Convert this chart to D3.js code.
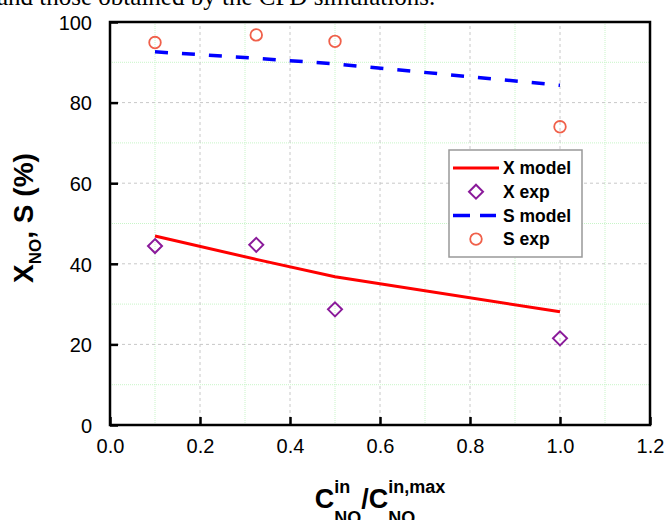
<!DOCTYPE html>
<html>
<head>
<meta charset="utf-8">
<script src="https://cdn.jsdelivr.net/npm/d3@7"></script>
<style>
  body { margin: 0; background: #fff; }
  svg { display: block; font-family: Arial, "Liberation Sans", sans-serif; }
</style>
</head>
<body>
<div id="chart"></div>
<script>
// ratio C_NO^in / C_NO^in,max
const ratios = [0.1, 0.325, 0.5, 1.0];
const xModel = [46.9, 41.1, 36.8, 28.1];
const xExp = [44.4, 44.7, 28.7, 21.5];
const sModel = [92.6, 91.0, 89.6, 84.3];
const sExp = [94.9, 96.8, 95.2, 74.0];

const xTicks = [0, 0.2, 0.4, 0.6, 0.8, 1.0, 1.2];
const yTicks = [0, 20, 40, 60, 80, 100];
const xMinor = [0.1, 0.3, 0.5, 0.7, 0.9, 1.1];
const yMinor = [10, 30, 50, 70, 90];

const legendItems = ["X model", "X exp", "S model", "S exp"];

const W = 667, H = 520;
const margin = { top: 22, right: 17, bottom: 95, left: 110 };

const svg = d3.select('#chart').append('svg')
    .attr('width', W)
    .attr('height', H);

// caption from the page above the figure, cut off at the top
svg.append('text')
    .attr('x', -3)
    .attr('y', 5)
    .style('font-family', '"Liberation Serif", "Times New Roman", serif')
    .style('font-size', '25px')
    .text('and those obtained by the CFD simulations.');

const x = d3.scaleLinear().domain([0, 1.2]).range([margin.left, W - margin.right]);
const y = d3.scaleLinear().domain([0, 100]).range([H - margin.bottom, margin.top]);

// grid: light green dotted minor, gray dashed major
svg.selectAll('.vminor').data(xMinor).enter().append('line')
    .attr('x1', d => x(d)).attr('x2', d => x(d))
    .attr('y1', y(0)).attr('y2', y(100))
    .attr('stroke', '#c8f5c8').attr('stroke-width', 1).attr('stroke-dasharray', '1,1');
svg.selectAll('.hminor').data(yMinor).enter().append('line')
    .attr('x1', x(0)).attr('x2', x(1.2))
    .attr('y1', d => y(d)).attr('y2', d => y(d))
    .attr('stroke', '#c8f5c8').attr('stroke-width', 1).attr('stroke-dasharray', '1,1');
svg.selectAll('.vmajor').data(xTicks.slice(1, -1)).enter().append('line')
    .attr('x1', d => x(d)).attr('x2', d => x(d))
    .attr('y1', y(0)).attr('y2', y(100))
    .attr('stroke', '#c8c8c8').attr('stroke-width', 1).attr('stroke-dasharray', '3,3');
svg.selectAll('.hmajor').data(yTicks.slice(1, -1)).enter().append('line')
    .attr('x1', x(0)).attr('x2', x(1.2))
    .attr('y1', d => y(d)).attr('y2', d => y(d))
    .attr('stroke', '#c8c8c8').attr('stroke-width', 1).attr('stroke-dasharray', '3,3');

// axes with inward ticks
const xAxis = d3.axisBottom(x).tickValues(xTicks).tickFormat(d3.format('.1f')).tickSizeInner(-8).tickSizeOuter(0).tickPadding(14);
const yAxis = d3.axisLeft(y).tickValues(yTicks).tickFormat(d3.format('d')).tickSizeInner(-8).tickSizeOuter(0).tickPadding(18);

const gx = svg.append('g').attr('transform', `translate(0,${y(0)})`).call(xAxis);
const gy = svg.append('g').attr('transform', `translate(${x(0)},0)`).call(yAxis);
[gx, gy].forEach(g => {
    g.select('.domain').remove();
    g.selectAll('.tick line').attr('stroke', '#000').attr('stroke-width', 2.5);
    g.selectAll('.tick text').style('font-size', '20px').style('font-family', 'Arial, "Liberation Sans", sans-serif').attr('fill', '#000');
});
gy.selectAll('.tick text').attr('dy', '0.36em');

// frame
svg.append('rect')
    .attr('x', x(0)).attr('y', y(100))
    .attr('width', x(1.2) - x(0)).attr('height', y(0) - y(100))
    .attr('fill', 'none').attr('stroke', '#000').attr('stroke-width', 2.5);

const pts = arr => ratios.map((r, i) => [r, arr[i]]);
const line = d3.line().x(d => x(d[0])).y(d => y(d[1]));

svg.append('path').datum(pts(sModel))
    .attr('d', line).attr('fill', 'none')
    .attr('stroke', '#0000ff').attr('stroke-width', 3.5).attr('stroke-dasharray', '13,14');

svg.append('path').datum(pts(xModel))
    .attr('d', line).attr('fill', 'none')
    .attr('stroke', '#ff0000').attr('stroke-width', 3);

const diamond = (cx, cy, r) => `M${cx},${cy - r}L${cx + r},${cy}L${cx},${cy + r}L${cx - r},${cy}Z`;

svg.selectAll('.xexp').data(pts(xExp)).enter().append('path')
    .attr('d', d => diamond(x(d[0]), y(d[1]), 7))
    .attr('fill', 'none').attr('stroke', '#8a1a9a').attr('stroke-width', 2);

svg.selectAll('.sexp').data(pts(sExp)).enter().append('circle')
    .attr('cx', d => x(d[0])).attr('cy', d => y(d[1])).attr('r', 5.8)
    .attr('fill', 'none').attr('stroke', '#f0604a').attr('stroke-width', 1.8);

// legend
const lg = svg.append('g').attr('transform', 'translate(449,150)');
lg.append('rect').attr('width', 133).attr('height', 107)
    .attr('fill', '#fff').attr('stroke', '#999').attr('stroke-width', 1.5);
const rowY = i => 18 + i * 23.7;
lg.append('line').attr('x1', 4).attr('x2', 50).attr('y1', rowY(0)).attr('y2', rowY(0))
    .attr('stroke', '#ff0000').attr('stroke-width', 3);
lg.append('path').attr('d', diamond(27, rowY(1), 7))
    .attr('fill', 'none').attr('stroke', '#8a1a9a').attr('stroke-width', 2);
lg.append('line').attr('x1', 4).attr('x2', 47).attr('y1', rowY(2)).attr('y2', rowY(2))
    .attr('stroke', '#0000ff').attr('stroke-width', 3.5).attr('stroke-dasharray', '17,10');
lg.append('circle').attr('cx', 27).attr('cy', rowY(3)).attr('r', 5.8)
    .attr('fill', 'none').attr('stroke', '#f0604a').attr('stroke-width', 1.8);
lg.selectAll('.ltxt').data(legendItems).enter().append('text')
    .attr('x', 54).attr('y', (d, i) => rowY(i)).attr('dy', '0.36em')
    .style('font-size', '17.5px').style('font-weight', 'bold')
    .text(d => d);

// y label: X_NO, S (%)
const yl = svg.append('text')
    .attr('transform', `translate(33,218) rotate(-90)`)
    .attr('text-anchor', 'middle')
    .style('font-weight', 'bold').style('font-size', '28px');
yl.append('tspan').text('X');
yl.append('tspan').attr('dy', 8).style('font-size', '17px').text('NO');
yl.append('tspan').attr('dy', -8).text(', S (%)');

// x label: C_NO^in / C_NO^in,max, built piece by piece
const xl = svg.append('g');
let cx = 0;
const base = 0;
function bigText(s) {
    const t = xl.append('text').attr('x', cx).attr('y', base)
        .style('font-weight', 'bold').style('font-size', '27px').text(s);
    cx += t.node().getComputedTextLength();
}
function supSub(sup, sub) {
    const a = xl.append('text').attr('x', cx).attr('y', base - 15)
        .style('font-weight', 'bold').style('font-size', '18px').text(sup);
    const b = xl.append('text').attr('x', cx).attr('y', base + 16)
        .style('font-weight', 'bold').style('font-size', '18px').text(sub);
    cx += Math.max(a.node().getComputedTextLength(), b.node().getComputedTextLength());
}
bigText('C');
supSub('in', 'NO');
bigText('/C');
supSub('in,max', 'NO');
xl.attr('transform', `translate(${(x(0) + x(1.2)) / 2 - cx / 2},508)`);
</script>
</body>
</html>
